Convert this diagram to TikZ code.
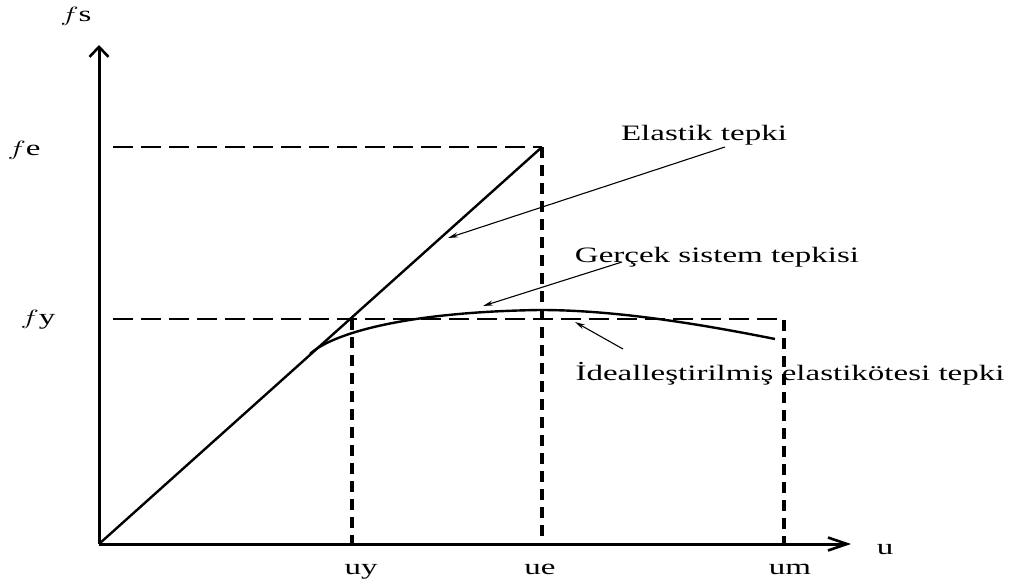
\documentclass[tikz,border=0pt]{standalone}
\usepackage{fontspec}
\setmainfont{Liberation Serif}
\usetikzlibrary{arrows.meta}
\newcommand{\stx}[1]{\scalebox{1.5}[1]{#1}}
\tikzset{
  lbl/.style={inner sep=0pt, anchor=base, font=\fontsize{22}{26}\selectfont},
  axis/.style={line width=3pt},
  hdash/.style={line width=2.4pt, dash pattern=on 20pt off 8pt},
  vdash/.style={line width=3.4pt, dash pattern=on 11pt off 7pt},
  resp/.style={line width=2.4pt},
  note/.style={line width=1.1pt, -{Stealth[length=10pt,width=5pt]}}
}
\begin{document}
\begin{tikzpicture}[x=1pt,y=-1pt]
\useasboundingbox (0,0) rectangle (1012,586);
% points
\coordinate (O) at (99,544);
\coordinate (ytip) at (99,45);
\coordinate (xtip) at (851,544);
\coordinate (fe0) at (113,147);
\coordinate (E) at (542,147);
\coordinate (fy0) at (113,319);
\coordinate (Y) at (352,319);
\coordinate (fyend) at (784,319);
\coordinate (uy0) at (352,544);
\coordinate (ue0) at (542,544);
\coordinate (um0) at (784,544);
\coordinate (umtop) at (784,320);
\coordinate (c0) at (310,354);
\coordinate (cpk) at (540,310);
\coordinate (cend) at (775,339);
\coordinate (elp) at (448,238);
\coordinate (grp) at (483,306);
\coordinate (idp) at (575,322);
% axes
\draw[axis, -{Straight Barb[length=10pt,width=19pt,line width=2.6pt]}] (O) -- (ytip);
\draw[axis, -{Straight Barb[length=19pt,width=13pt,line width=2.6pt]}] (O) -- (xtip);
% dashed guide lines
\draw[hdash] (fe0) -- (E);
\draw[hdash] (fy0) -- (fyend);
\draw[vdash] (E) -- (ue0);
\draw[vdash] (Y) -- (uy0);
\draw[vdash] (umtop) -- (um0);
% responses
\draw[resp] (O) -- (E);
\draw[resp] (c0) .. controls (330,335) and (400,312) .. (cpk)
            .. controls (610,310) and (690,322) .. (cend);
% labels
\node[lbl] (fs) at (76,22) {\stx{$f$s}};
\node[lbl] (fe) at (24,155) {\stx{$f$e}};
\node[lbl] (fy) at (38,324) {\stx{$f$y}};
\node[lbl] (uy) at (361,574) {\stx{uy}};
\node[lbl] (ue) at (540,574) {\stx{ue}};
\node[lbl] (um) at (790,574) {\stx{um}};
\node[lbl] (u) at (885,554) {\stx{u}};
\node[lbl] (el) at (704,140) {\stx{Elastik tepki}};
\node[lbl] (gr) at (717,262) {\stx{Gerçek sistem tepkisi}};
\node[lbl] (id) at (790,380) {\stx{İdealleştirilmiş elastikötesi tepki}};
% annotation arrows
\coordinate (elt) at (725,147);
\coordinate (grt) at (622,262);
\coordinate (idt) at (623,349);
\draw[note] (elt) -- (elp);
\draw[note] (grt) -- (grp);
\draw[note] (idt) -- (idp);
\end{tikzpicture}
\end{document}
